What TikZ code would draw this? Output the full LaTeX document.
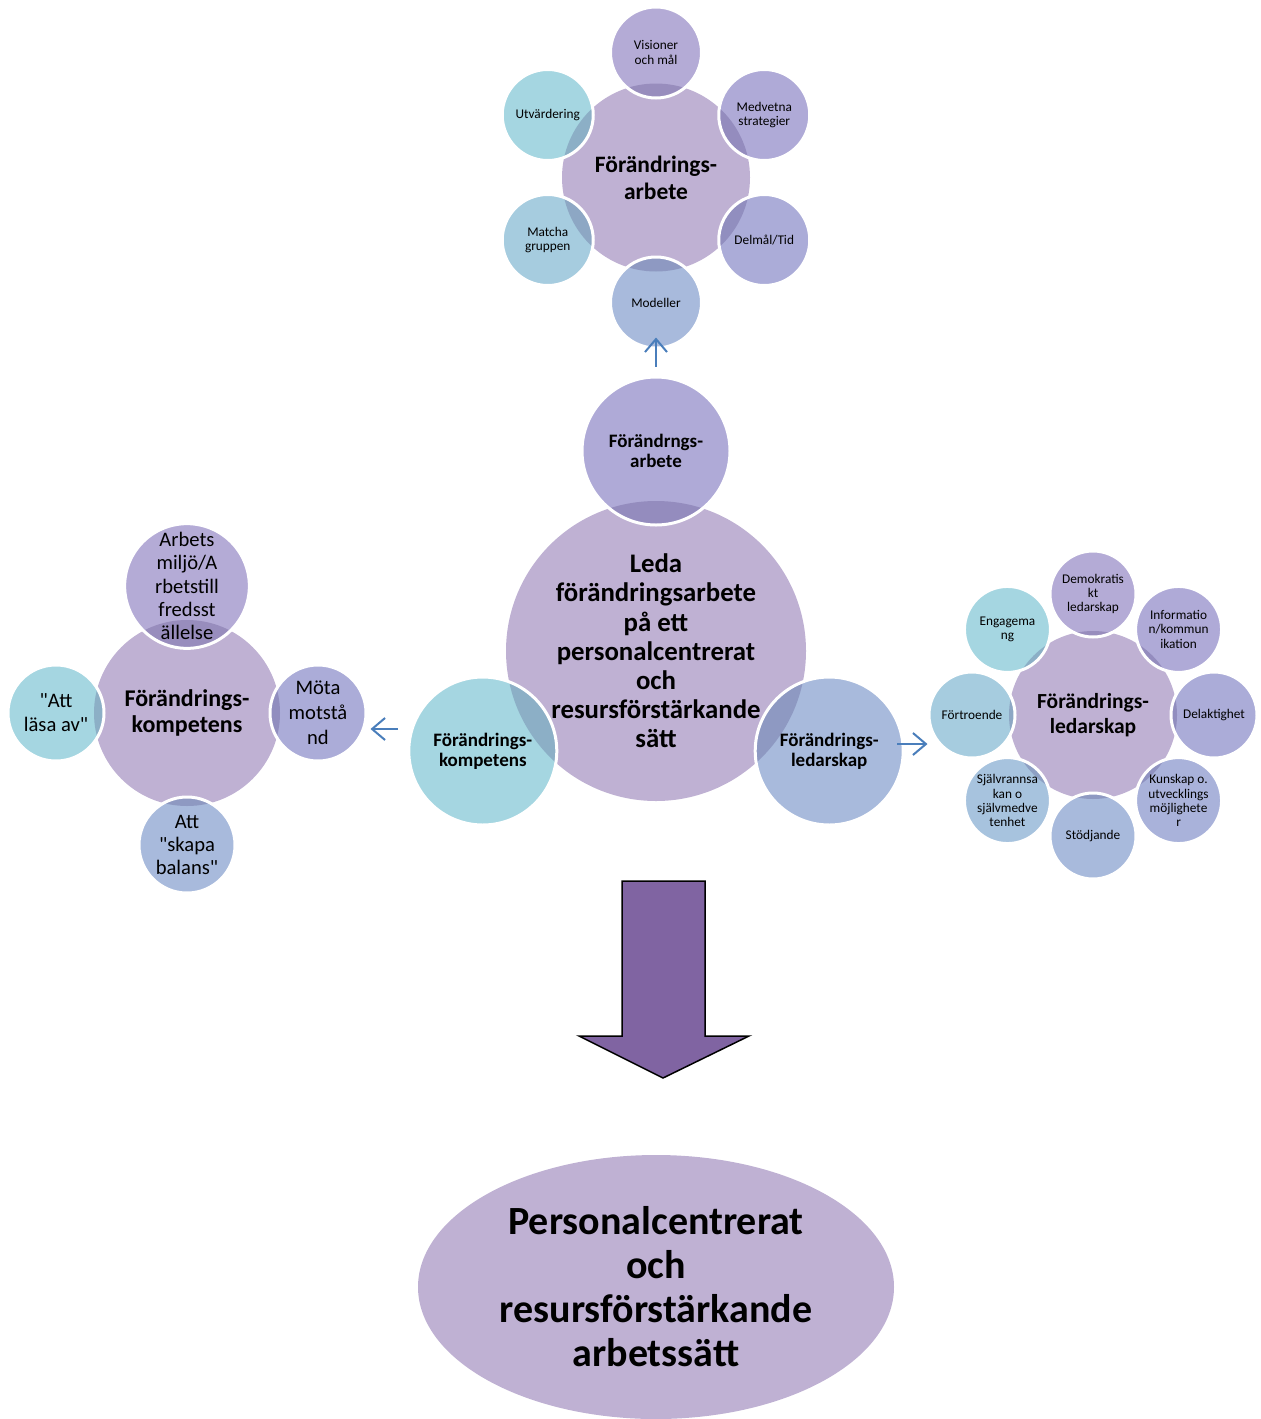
\documentclass[tikz,border=0pt]{standalone}
\usepackage{fontspec}
\setmainfont{Carlito}
\usetikzlibrary{calc,arrows.meta,shapes.geometric}

\definecolor{hubfill}{HTML}{BFB1D3}
\definecolor{lensdark}{RGB}{40,20,90}
\definecolor{linkblue}{HTML}{4A7EBB}
\definecolor{bigarrow}{HTML}{8064A2}
\definecolor{cA}{HTML}{B4ABD6}
\definecolor{cB}{HTML}{AFAAD7}
\definecolor{cC}{HTML}{ABACD8}
\definecolor{cD}{HTML}{A9B2DA}
\definecolor{cE}{HTML}{A8BADC}
\definecolor{cF}{HTML}{A7C3DE}
\definecolor{cG}{HTML}{A6CCDF}
\definecolor{cH}{HTML}{A5D6E1}

\newcommand{\fsz}[2]{\fontsize{#1}{#2}\selectfont}

\tikzset{
  hub/.style={circle, fill=hubfill, inner sep=0pt, align=center},
  spoke/.style n args={3}{circle, fill=#1, draw=white, line width=3pt, inner sep=0pt, align=center,
    path picture={\fill[#1!80!lensdark] (#2) circle (#3);}},
  link/.style={draw=linkblue, line width=2pt, -{Straight Barb[length=13pt,width=22pt]}},
}

\begin{document}
\begin{tikzpicture}[x=1pt,y=-1pt]
    \useasboundingbox (0,0) rectangle (1261,1419);

    % Top cluster
    \node[hub, minimum size=188pt, font=\fsz{23.5}{27}\bfseries] (arbHub) at (656,177.5) {Förändrings-\\arbete};
    \node[spoke={cA}{arbHub}{94pt}, minimum size=91pt, font=\fsz{13.3}{14.2}] (vis) at ($(arbHub)+(90:125pt)$) {Visioner\\och mål};
    \node[spoke={cB}{arbHub}{94pt}, minimum size=91pt, font=\fsz{13.3}{14.2}] (medv) at ($(arbHub)+(30:125pt)$) {Medvetna\\strategier};
    \node[spoke={cC}{arbHub}{94pt}, minimum size=91pt, font=\fsz{13.3}{14.2}] (delm) at ($(arbHub)+(-30:125pt)$) {Delmål/Tid};
    \node[spoke={cE}{arbHub}{94pt}, minimum size=91pt, font=\fsz{13.3}{14.2}] (mod) at ($(arbHub)+(-90:125pt)$) {Modeller};
    \node[spoke={cG}{arbHub}{94pt}, minimum size=91pt, font=\fsz{13.3}{14.2}] (match) at ($(arbHub)+(-150:125pt)$) {Matcha\\gruppen};
    \node[spoke={cH}{arbHub}{94pt}, minimum size=91pt, font=\fsz{13.3}{14.2}] (utv) at ($(arbHub)+(150:125pt)$) {Utvärdering};

    % Middle cluster
    \node[hub, minimum size=300pt, font=\fsz{26.8}{29.2}\bfseries] (ledaHub) at (656,651) {Leda\\förändringsarbete\\på ett\\personalcentrerat\\och\\resursförstärkande\\sätt};
    \node[spoke={cB}{ledaHub}{150pt}, minimum size=148pt, font=\fsz{19}{20}\bfseries] (ledaTop) at ($(ledaHub)+(90:200pt)$) {Förändrngs-\\arbete};
    \node[spoke={cH}{ledaHub}{150pt}, minimum size=148pt, font=\fsz{19}{20}\bfseries] (ledaKomp) at ($(ledaHub)+(210:200pt)$) {Förändrings-\\kompetens};
    \node[spoke={cE}{ledaHub}{150pt}, minimum size=148pt, font=\fsz{19}{20}\bfseries] (ledaLed) at ($(ledaHub)+(330:200pt)$) {Förändrings-\\ledarskap};

    % Left cluster
    \node[hub, minimum size=186pt, font=\fsz{24}{26.7}\bfseries] (kompHub) at (187,713) {Förändrings-\\kompetens};
    \node[spoke={cA}{kompHub}{93pt}, minimum size=96pt, font=\fsz{20.6}{23.3}] (miljo) at ($(kompHub)+(90:127pt)$) {Arbets\\miljö/A\\rbetstill\\fredsst\\ällelse};
    \node[spoke={cC}{kompHub}{93pt}, minimum size=96pt, font=\fsz{20.6}{25}] (mota) at ($(kompHub)+(0:131pt)$) {Möta\\motstå\\nd};
    \node[spoke={cE}{kompHub}{93pt}, minimum size=96pt, font=\fsz{20.6}{23.3}] (balans) at ($(kompHub)+(-90:132pt)$) {Att\\\textquotedbl skapa\\balans\textquotedbl};
    \node[spoke={cH}{kompHub}{93pt}, minimum size=96pt, font=\fsz{20.6}{24}] (lasa) at ($(kompHub)+(180:131pt)$) {\textquotedbl Att\\läsa av\textquotedbl};

    % Right cluster
    \node[hub, minimum size=168pt, font=\fsz{21.5}{24.5}\bfseries] (ledHub) at (1093,715) {Förändrings-\\ledarskap};
    \node[spoke={cA}{ledHub}{84pt}, minimum size=86pt, font=\fsz{13.3}{14.2}] (demo) at ($(ledHub)+(90:121pt)$) {Demokratis\\kt\\ledarskap};
    \node[spoke={cB}{ledHub}{84pt}, minimum size=86pt, font=\fsz{13.3}{14.2}] (info) at ($(ledHub)+(45:121pt)$) {Informatio\\n/kommun\\ikation};
    \node[spoke={cC}{ledHub}{84pt}, minimum size=86pt, font=\fsz{13.3}{14.2}] (delakt) at ($(ledHub)+(0:121pt)$) {Delaktighet};
    \node[spoke={cD}{ledHub}{84pt}, minimum size=86pt, font=\fsz{13.3}{14.2}] (kunsk) at ($(ledHub)+(-45:121pt)$) {Kunskap o.\\utvecklings\\möjlighete\\r};
    \node[spoke={cE}{ledHub}{84pt}, minimum size=86pt, font=\fsz{13.3}{14.2}] (stod) at ($(ledHub)+(-90:121pt)$) {Stödjande};
    \node[spoke={cF}{ledHub}{84pt}, minimum size=86pt, font=\fsz{13.3}{14.2}] (sjalv) at ($(ledHub)+(-135:121pt)$) {Självrannsa\\kan o\\självmedve\\tenhet};
    \node[spoke={cG}{ledHub}{84pt}, minimum size=86pt, font=\fsz{13.3}{14.2}] (fortr) at ($(ledHub)+(180:121pt)$) {Förtroende};
    \node[spoke={cH}{ledHub}{84pt}, minimum size=86pt, font=\fsz{13.3}{14.2}] (engag) at ($(ledHub)+(135:121pt)$) {Engagema\\ng};

    % Links between clusters
    \coordinate (kompTail) at (398,729);
    \coordinate (ledTail) at (897,744);
    \draw[link] ([yshift=9pt]ledaTop.north) -- ([yshift=12pt]mod.south);
    \draw[link, shorten >=3pt] (kompTail) -- (kompTail -| mota.east);
    \draw[link] (ledTail) -- (ledTail -| fortr.west);

    % Big arrow down
    \draw[line width=1.5pt, fill=bigarrow, line join=miter] (622,881) -- (705,881) -- (705,1036) -- (749,1036)
        -- (663,1078) -- (579,1036) -- (622,1036) -- cycle;

    % Result
    \node[ellipse, fill=hubfill, minimum width=476pt, minimum height=264pt, inner sep=0pt, align=center,
        font=\fsz{40}{44}\bfseries] (result) at (656,1287) {Personalcentrerat\\och\\resursförstärkande\\arbetssätt};
\end{tikzpicture}
\end{document}
